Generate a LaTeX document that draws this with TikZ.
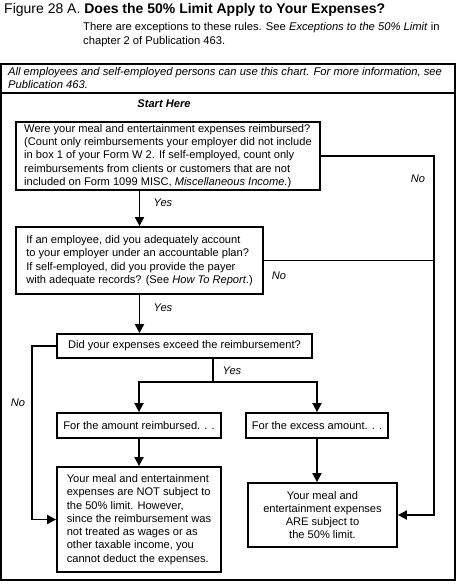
\documentclass[tikz,border=0pt]{standalone}
\usepackage{fontspec}
\setmainfont{Liberation Sans}
\usepackage{tikz}
\usetikzlibrary{arrows.meta, positioning}

\begin{document}
\begin{tikzpicture}[
        x=1pt, y=-1pt,
        qbox/.style={draw, rectangle, line width=1.8pt, inner sep=0pt, align=left,
                     font=\fontsize{11.1}{13.3}\selectfont},
        lbl/.style={font=\fontsize{11.1}{12}\selectfont\itshape, inner sep=0pt},
        link/.style={line width=1.8pt},
        arr/.style={link, -{Triangle[length=9pt,width=9pt]}},
        node distance=0cm
    ]
        \useasboundingbox (0,0) rectangle (458,588);

        % heading
        \node[anchor=west, inner sep=0pt, font=\fontsize{14}{15}\selectfont] (title) at (4,10)
            {Figure 28 A. \textbf{Does the 50\% Limit Apply to Your Expenses?}};
        \node[anchor=north west, inner sep=0pt, align=left, font=\fontsize{11.2}{14}\selectfont] (sub) at (83,22)
            {There are exceptions to these rules. See \textit{Exceptions to the 50\% Limit} in\\
             chapter 2 of Publication 463.};

        % frame
        \draw[line width=2.5pt] (1,64) rectangle (455,580);
        \draw[line width=2.5pt] (1,93) -- (455,93);
        \node[anchor=north west, inner sep=0pt, align=left, font=\fontsize{11.2}{13}\selectfont\itshape] (note) at (8,67)
            {All employees and self-employed persons can use this chart. For more information, see\\
             Publication 463.};

        % questions
        \node[qbox, minimum width=304pt, minimum height=68pt] (q1) at (168,156)
            {Were your meal and entertainment expenses reimbursed?\\
             (Count only reimbursements your employer did not include\\
             in box 1 of your Form W 2. If self-employed, count only\\
             reimbursements from clients or customers that are not\\
             included on Form 1099 MISC, \textit{Miscellaneous Income.})};
        \node[font=\fontsize{11.1}{12}\selectfont\bfseries\itshape, inner sep=0pt, above=13pt of q1, xshift=-4pt] (start) {Start Here};
        \node[qbox, minimum width=247pt, minimum height=67pt] (q2) at (139.5,260.5)
            {If an employee, did you adequately account\\
             to your employer under an accountable plan?\\
             If self-employed, did you provide the payer\\
             with adequate records? (See \textit{How To Report}.)};
        \node[qbox, minimum width=255pt, minimum height=24pt] (q3) at (184.5,346)
            {Did your expenses exceed the reimbursement?};

        % answers
        \node[qbox, minimum width=164pt, minimum height=25pt] (amt) at (139,425.5) {For the amount reimbursed. . .};
        \node[qbox, minimum width=142pt, minimum height=25pt] (excess) at (317,425.5) {For the excess amount. . .};
        \node[qbox, minimum width=164pt, minimum height=105pt] (notsub) at (139,519.5)
            {Your meal and entertainment\\
             expenses are NOT subject to\\
             the 50\% limit. However,\\
             since the reimbursement was\\
             not treated as wages or as\\
             other taxable income, you\\
             cannot deduct the expenses.};
        \node[qbox, align=center, minimum width=149pt, minimum height=64pt] (sub50) at (322.5,515)
            {Your meal and\\
             entertainment expenses\\
             ARE subject to\\
             the 50\% limit.};

        % rails
        \coordinate (railR) at (434,0);
        \coordinate (railL) at (32,0);
        \coordinate (split) at (213,382);

        % connectors
        \draw[arr] (q1.south -| q2) -- (q2.north);
        \draw[arr] (q2.south) -- (q2.south |- q3.north);
        \draw[link] (q3.south -| split) -- (split);
        \draw[arr] (split) -| (amt.north);
        \draw[arr] (split) -| (excess.north);
        \draw[arr] (amt.south) -- (notsub.north);
        \draw[arr] (excess.south) -- (excess.south |- sub50.north);
        \draw[arr] (q1.east) -| (railR |- sub50.east) -- (sub50.east);
        \draw[link] (q2.east) -- (q2.east -| railR);
        \draw[arr] (q3.west) -| (railL |- notsub.west) -- (notsub.west);

        % labels
        \node[lbl] (yes1) at (163,203) {Yes};
        \node[lbl] (yes2) at (163,308) {Yes};
        \node[lbl] (yes3) at (232,371) {Yes};
        \node[lbl] (no1) at (418,179) {No};
        \node[lbl] (no2) at (279,276) {No};
        \node[lbl] (no3) at (18,403) {No};
    \end{tikzpicture}
\end{document}
